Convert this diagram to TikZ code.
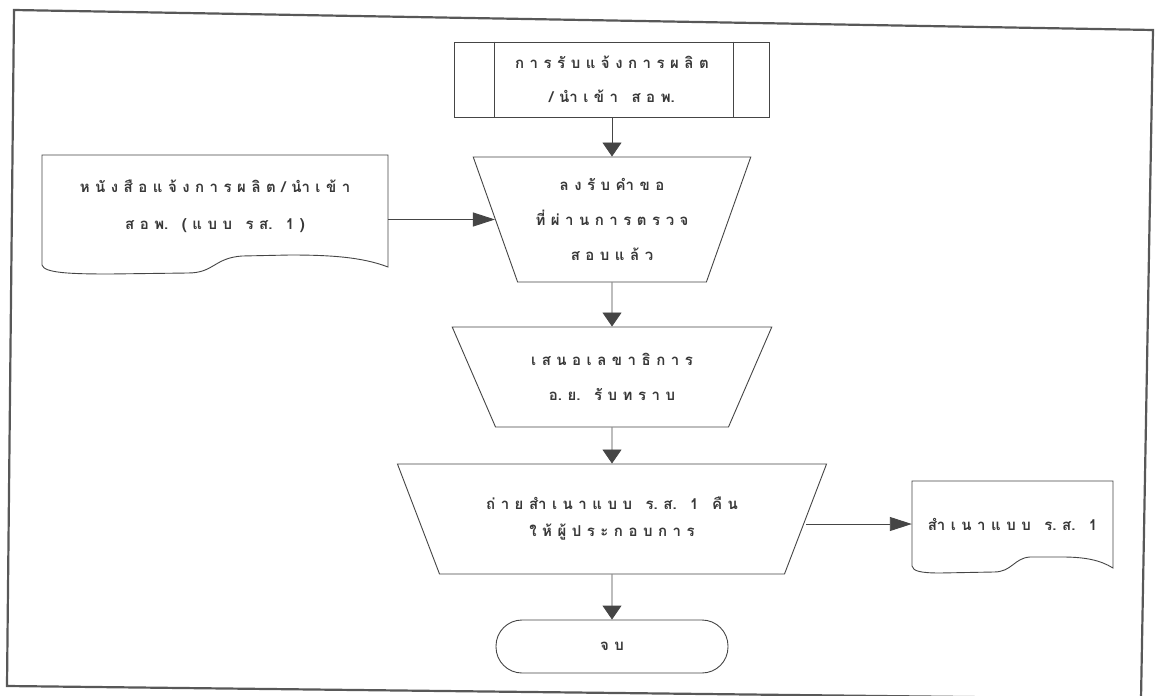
\documentclass[tikz,border=0pt]{standalone}
\usepackage{fontspec}
\usetikzlibrary{arrows.meta,shapes.geometric}
\newfontfamily\thaifont[Script=Thai]{Loma}
% clusters are typed with one space between them; \ws marks a real word gap
\newcommand\ws{\hspace{8pt}}
\newcommand\typeface[1]{\thaifont\bfseries\fontsize{15}{#1}\selectfont\frenchspacing\spaceskip=5.5pt\relax}
\definecolor{ink}{HTML}{454545}
\definecolor{txt}{HTML}{383838}
\definecolor{framecol}{HTML}{585858}

\begin{document}
\begin{tikzpicture}[x=1pt,y=-1pt,
  every node/.style={font=\typeface{35}, text=txt},
  shp/.style={draw=ink, line width=0.9pt, align=center, inner sep=0pt},
  tz/.style={shp, trapezium, shape border rotate=180, trapezium stretches=true},
  outline/.style={draw=ink, line width=0.9pt},
  varr/.style={draw=ink, line width=0.9pt, -{Triangle[length=14pt,width=19pt]}},
  harr/.style={draw=ink, line width=0.9pt, -{Triangle[length=22pt,width=14pt]}},
]
\useasboundingbox (0,0) rectangle (1157,696);
\fill[white] (0,0) rectangle (1157,696);
\begin{scope}
  \clip (0,0) rectangle (1157,696);
  \draw[framecol, line width=2.2pt, line join=miter] (14,10) -- (1153,30) -- (1141,699) -- (7,686) -- cycle;
\end{scope}

% predefined process: receiving the notification
\node[shp, minimum width=315pt, minimum height=75pt, font=\typeface{34}] (recv) at (612,79.5)
  {ก า ร รั บ แ จ้ ง ก า ร ผ ลิ ต\\/ นำ เ ข้ า \ws ส อ พ.};
\draw[outline] ([xshift=40pt]recv.north west) -- ([xshift=40pt]recv.south west);
\draw[outline] ([xshift=-37pt]recv.north east) -- ([xshift=-37pt]recv.south east);

% manual operations
\node[tz, trapezium angle=66.4, minimum width=278pt, minimum height=125pt] (check) at (612,219.5)
  {ล ง รั บ คำ ข อ\\ที่ ผ่ า น ก า ร ต ร ว จ\\ส อ บ แ ล้ ว};
\node[tz, trapezium angle=57.6, minimum width=320pt, minimum height=100pt] (notify) at (612,377)
  {เ ส น อ เ ล ข า ธิ ก า ร\\อ. ย. \ws รั บ ท ร า บ};
\node[tz, trapezium angle=54.7, minimum width=430pt, minimum height=110pt, font=\typeface{27}] (copyret) at (612,519)
  {ถ่ า ย สำ เ น า แ บ บ \ws ร. ส. \ws 1 \ws คื น\\ใ ห้ ผู้ ป ร ะ ก อ บ ก า ร};

% terminator
\node[shp, rounded corners=26pt, minimum width=232pt, minimum height=53pt] (finish) at (612,646.5) {จ บ};

% input document
\node[inner sep=0pt, align=center, minimum width=346pt, minimum height=110pt, font=\typeface{37}] (form) at (215,206)
  {ห นั ง สื อ แ จ้ ง ก า ร ผ ลิ ต / นำ เ ข้ า\\ส อ พ. \ws ( แ บ บ \ws ร ส. \ws 1 )};
\draw[outline] (42,265) -- (42,155) -- (388,155) -- (388,267)
  .. controls (362,257) and (330,255) .. (290,255) -- (242,256)
  .. controls (214,258) and (214,273) .. (188,273) -- (110,274)
  .. controls (70,274) and (44,273) .. (42,265);

% output document
\node[inner sep=0pt, align=center, minimum width=201pt, minimum height=86pt] (copy) at (1012.5,524)
  {สำ เ น า แ บ บ \ws ร. ส. \ws 1};
\draw[outline] (912,566) -- (912,481) -- (1113,481) -- (1113,568)
  .. controls (1100,560) and (1085,557) .. (1062,557) -- (1030,557)
  .. controls (1014,558) and (1012,572) .. (994,572) -- (940,573)
  .. controls (920,573) and (913,571) .. (912,566);

% connectors
\draw[varr] (recv) -- (check);
\draw[varr] (check) -- (notify);
\draw[varr] (notify) -- (copyret);
\draw[varr] (copyret) -- (finish);
\draw[harr] (form.east |- check) -- (check);
\draw[harr] (copyret.east |- copy) -- (copy.west);
\end{tikzpicture}
\end{document}
